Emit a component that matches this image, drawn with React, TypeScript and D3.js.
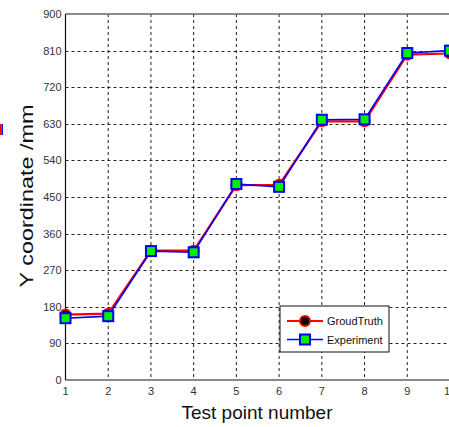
import { useEffect, useRef } from 'react';
import * as d3 from 'd3';

const testPoints = [1, 2, 3, 4, 5, 6, 7, 8, 9, 10];
const groundTruth = [161, 163, 318, 318, 479, 480, 636, 636, 800, 803];
const experiment = [152, 157, 317, 314, 482, 475, 640, 641, 804, 810];
const yTicks = [0, 90, 180, 270, 360, 450, 540, 630, 720, 810, 900];
const seriesNames = ['GroudTruth', 'Experiment'];

const W = 449;
const H = 427;

export default function App() {
  const svgRef = useRef<SVGSVGElement>(null);

  useEffect(() => {
    if (!svgRef.current) return;
    const svg = d3.select(svgRef.current);
    svg.selectAll('*').remove();

    const margin = { top: 14, left: 65.5, bottom: 380 };
    const x = d3.scaleLinear().domain([1, 10]).range([margin.left, 450]);
    const y = d3.scaleLinear().domain([0, 900]).range([margin.bottom, margin.top]);
    const font = 'Liberation Sans, Arial, sans-serif';

    svg.append('rect').attr('width', W).attr('height', H).attr('fill', '#fff');

    // grid
    svg.append('g')
      .selectAll('line')
      .data(testPoints.slice(1))
      .join('line')
      .attr('x1', d => x(d))
      .attr('x2', d => x(d))
      .attr('y1', y(900))
      .attr('y2', y(0))
      .attr('stroke', '#222')
      .attr('stroke-width', 1)
      .attr('stroke-dasharray', '3,3');

    svg.append('g')
      .selectAll('line')
      .data(yTicks.slice(1, -1))
      .join('line')
      .attr('x1', x(1))
      .attr('x2', W)
      .attr('y1', d => Math.round(y(d)) + 0.5)
      .attr('y2', d => Math.round(y(d)) + 0.5)
      .attr('stroke', '#222')
      .attr('stroke-width', 1)
      .attr('stroke-dasharray', '3,3');

    // frame
    svg.append('line')
      .attr('x1', x(1)).attr('x2', W)
      .attr('y1', y(900)).attr('y2', y(900))
      .attr('stroke', '#666').attr('stroke-width', 1.5);
    svg.append('line')
      .attr('x1', x(1)).attr('x2', x(1))
      .attr('y1', y(900)).attr('y2', y(0))
      .attr('stroke', '#111').attr('stroke-width', 1.2);
    svg.append('line')
      .attr('x1', x(1)).attr('x2', W)
      .attr('y1', y(0)).attr('y2', y(0))
      .attr('stroke', '#111').attr('stroke-width', 1.2);

    // tick labels
    svg.append('g')
      .selectAll('text')
      .data(yTicks)
      .join('text')
      .attr('x', x(1) - 4)
      .attr('y', d => y(d) + 4)
      .attr('text-anchor', 'end')
      .attr('font-family', font)
      .attr('font-size', 11)
      .attr('fill', '#333')
      .text(d => d);

    svg.append('g')
      .selectAll('text')
      .data(testPoints)
      .join('text')
      .attr('x', d => x(d))
      .attr('y', y(0) + 15)
      .attr('text-anchor', 'middle')
      .attr('font-family', font)
      .attr('font-size', 11)
      .attr('fill', '#333')
      .text(d => d);

    // axis titles
    svg.append('text')
      .attr('transform', 'translate(33,196) rotate(-90)')
      .attr('text-anchor', 'middle')
      .attr('font-family', font)
      .attr('font-size', 19)
      .attr('fill', '#111')
      .attr('textLength', 183)
      .attr('lengthAdjust', 'spacingAndGlyphs')
      .text('Y coordinate /mm');

    svg.append('text')
      .attr('x', 257)
      .attr('y', 419)
      .attr('text-anchor', 'middle')
      .attr('font-family', font)
      .attr('font-size', 19)
      .attr('fill', '#111')
      .text('Test point number');

    const line = d3.line<number>()
      .x((_, i) => x(testPoints[i]))
      .y(d => y(d));

    // GroudTruth
    svg.append('path')
      .datum(groundTruth)
      .attr('fill', 'none')
      .attr('stroke', '#ff0000')
      .attr('stroke-width', 2.2)
      .attr('d', line);
    svg.append('g')
      .selectAll('circle')
      .data(groundTruth)
      .join('circle')
      .attr('cx', (_, i) => x(testPoints[i]))
      .attr('cy', d => y(d))
      .attr('r', 5)
      .attr('fill', '#000')
      .attr('stroke', '#ff0000')
      .attr('stroke-width', 2);

    // Experiment
    svg.append('path')
      .datum(experiment)
      .attr('fill', 'none')
      .attr('stroke', '#0000ff')
      .attr('stroke-width', 1.6)
      .attr('d', line);
    svg.append('g')
      .selectAll('rect')
      .data(experiment)
      .join('rect')
      .attr('x', (_, i) => x(testPoints[i]) - 5)
      .attr('y', d => y(d) - 5)
      .attr('width', 10)
      .attr('height', 10)
      .attr('fill', '#00ee00')
      .attr('stroke', '#0000ff')
      .attr('stroke-width', 2);

    // legend
    const lg = svg.append('g').attr('transform', 'translate(280,306)');
    lg.append('rect')
      .attr('width', 109)
      .attr('height', 46)
      .attr('fill', '#fff')
      .attr('stroke', '#111')
      .attr('stroke-width', 1);
    const items = lg.selectAll('g.item')
      .data(seriesNames)
      .join('g')
      .attr('class', 'item')
      .attr('transform', (_, i) => `translate(0,${15 + i * 18.5})`);
    items.append('line')
      .attr('x1', 7).attr('x2', 43)
      .attr('y1', 0).attr('y2', 0)
      .attr('stroke', (_, i) => (i === 0 ? '#ff0000' : '#0000ff'))
      .attr('stroke-width', (_, i) => (i === 0 ? 2.2 : 1.6));
    items.filter((_, i) => i === 0)
      .append('circle')
      .attr('cx', 25).attr('cy', 0).attr('r', 5)
      .attr('fill', '#000').attr('stroke', '#ff0000').attr('stroke-width', 2);
    items.filter((_, i) => i === 1)
      .append('rect')
      .attr('x', 20).attr('y', -5).attr('width', 10).attr('height', 10)
      .attr('fill', '#00ee00').attr('stroke', '#0000ff').attr('stroke-width', 2);
    items.append('text')
      .attr('x', 47)
      .attr('y', 4)
      .attr('font-family', font)
      .attr('font-size', 11)
      .attr('fill', '#111')
      .text(d => d);

    // clipped neighbour marks at the left edge
    svg.append('rect').attr('x', 0).attr('y', 124).attr('width', 1.5).attr('height', 11).attr('fill', '#ff0000');
    svg.append('rect').attr('x', 1.5).attr('y', 124).attr('width', 1.5).attr('height', 11).attr('fill', '#0000ff');
  }, []);

  return (
    <div style={{ position: 'absolute', left: 0, top: 0, width: W, height: H }}>
      <svg ref={svgRef} width={W} height={H} style={{ display: 'block' }} />
    </div>
  );
}
